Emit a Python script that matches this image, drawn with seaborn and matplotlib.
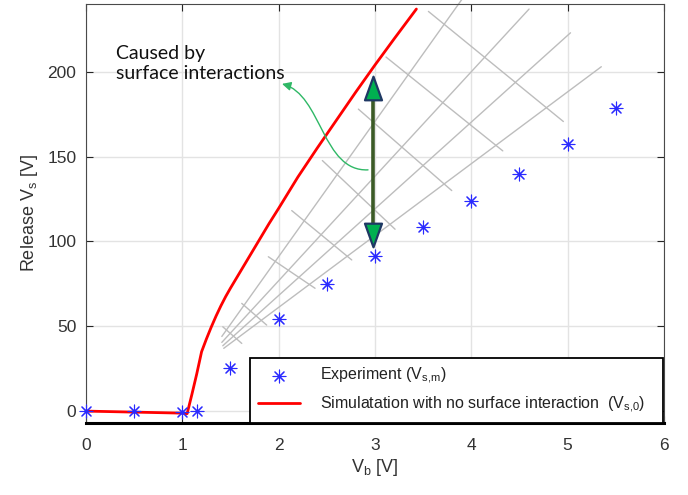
import numpy as np
import pandas as pd
import matplotlib
matplotlib.use("Agg")
import matplotlib.pyplot as plt
from matplotlib.path import Path
from matplotlib.patches import FancyArrowPatch
import seaborn as sns

# Measured release voltage
exp_vb = [0.0, 0.5, 1.0, 1.15, 1.5, 2.0, 2.5, 3.0, 3.5, 4.0, 4.5, 5.0, 5.5]
exp_vs = [0.0, 0.0, -0.5, 0.0, 25.5, 54.0, 75.0, 91.5, 108.5, 124.0, 140.0, 157.5, 178.5]

# Simulated release voltage without surface interaction
sim_vb = [0.0, 0.5, 1.0, 1.05, 1.1, 1.15, 1.2, 1.25, 1.3, 1.35, 1.4, 1.45, 1.5, 1.6,
          1.7, 1.8, 1.9, 2.0, 2.2, 2.4, 2.6, 2.8, 3.0, 3.2, 3.43]
sim_vs = [0.0, -0.6, -1.2, -1.5, 10.0, 22.0, 35.0, 42.5, 49.5, 56.0, 62.0, 67.5, 72.5,
          82.0, 91.5, 101.0, 110.5, 119.5, 138.0, 155.0, 171.5, 188.0, 204.0, 219.5, 237.0]

x_ticks = [0, 1, 2, 3, 4, 5, 6]
y_ticks = [0, 50, 100, 150, 200]

# Grey mesh: radial fan lines and cross lines (start / end points)
fan_x0 = [1.41, 1.41, 1.42, 1.43]
fan_y0 = [44.0, 40.5, 38.5, 37.0]
fan_x1 = [3.90, 4.60, 5.03, 5.35]
fan_y1 = [242.5, 237.0, 223.0, 203.0]

cross_x0 = [3.555, 3.115, 2.828, 2.454, 2.136, 1.893, 1.617, 1.420]
cross_y0 = [235.6, 208.7, 178.0, 147.7, 118.2, 91.0, 63.5, 49.7]
cross_x1 = [4.956, 4.327, 3.797, 3.209, 2.759, 2.378, 1.876, 1.617]
cross_y1 = [170.7, 153.4, 130.0, 107.2, 89.1, 72.4, 50.7, 39.9]

# Gap between simulation and experiment at Vb = 3 V
gap_x = 2.98
gap_top = 197.6
gap_bottom = 97.0

# Curved pointer towards the note
curve_x = [2.928, 2.451, 2.451, 2.035]
curve_y = [142.2, 141.0, 186.4, 192.9]
note_x, note_y = 0.31, 205.0
note_text = "Caused by\nsurface interactions"

sns.set_theme(style="white")
plt.rcParams["font.family"] = ["Liberation Sans", "DejaVu Sans"]
plt.rcParams["mathtext.fontset"] = "custom"
plt.rcParams["mathtext.rm"] = "Liberation Sans"

fig = plt.figure(figsize=(6.88, 4.95), dpi=100)
ax = fig.add_axes([0.125, 0.1455, 0.840, 0.8465])

sim_df = pd.DataFrame({"vb": sim_vb, "vs": sim_vs})
exp_df = pd.DataFrame({"vb": exp_vb, "vs": exp_vs})

# mesh overlay
for x0, y0, x1, y1 in zip(fan_x0, fan_y0, fan_x1, fan_y1):
    ax.plot([x0, x1], [y0, y1], color="#bdbdbd", lw=1.0, zorder=2, clip_on=False)
for x0, y0, x1, y1 in zip(cross_x0, cross_y0, cross_x1, cross_y1):
    ax.plot([x0, x1], [y0, y1], color="#bdbdbd", lw=1.0, zorder=2, clip_on=False)

sns.lineplot(data=sim_df, x="vb", y="vs", ax=ax, color="#ff0000", lw=2.0,
             sort=False, estimator=None, zorder=3, clip_on=False,
             label=r"Simulatation with no surface interaction  (V$_{\mathregular{s{,}0}}$)")
sns.scatterplot(data=exp_df, x="vb", y="vs", ax=ax, marker=(8, 2, 0), s=85,
                color="#2a2aff", linewidth=0.8, zorder=4, clip_on=False,
                label=r"Experiment (V$_{\mathregular{s{,}m}}$)")

# double arrow showing the gap
ax.plot([gap_x, gap_x], [gap_bottom + 4, gap_top - 4], color="#3b5a26", lw=2.6,
        zorder=5, solid_capstyle="butt")
tri_up = Path([(-0.36, -0.5), (0.36, -0.5), (0.0, 0.5), (-0.36, -0.5)],
              [Path.MOVETO, Path.LINETO, Path.LINETO, Path.CLOSEPOLY])
tri_dn = Path([(-0.36, 0.5), (0.36, 0.5), (0.0, -0.5), (-0.36, 0.5)],
              [Path.MOVETO, Path.LINETO, Path.LINETO, Path.CLOSEPOLY])
head_h = 7.0
ax.plot([gap_x], [gap_top - head_h], marker=tri_up, markersize=17,
        markerfacecolor="#00b050", markeredgecolor="#1f3864", markeredgewidth=1.6,
        linestyle="", zorder=6)
ax.plot([gap_x], [gap_bottom + head_h], marker=tri_dn, markersize=17,
        markerfacecolor="#00b050", markeredgecolor="#1f3864", markeredgewidth=1.6,
        linestyle="", zorder=6)

# curved pointer and note
curve = Path(list(zip(curve_x, curve_y)),
             [Path.MOVETO, Path.CURVE4, Path.CURVE4, Path.CURVE4])
ax.add_patch(FancyArrowPatch(path=curve, arrowstyle="-|>", mutation_scale=13,
                             color="#2fb866", lw=1.0, zorder=5))
ax.text(note_x, note_y, note_text, fontsize=14, family=["Lato", "DejaVu Sans"],
        color="#111111", ha="left", va="center", linespacing=1.2)

ax.set_xlim(0, 6)
ax.set_ylim(-7, 240)
ax.set_xticks(x_ticks)
ax.set_yticks(y_ticks)
ax.grid(True, color="#e3e3e3", lw=1.0)
ax.set_axisbelow(True)
ax.tick_params(direction="in", length=5, width=0.8, colors="#262626",
               labelsize=12.5, labelcolor="#333333", top=True, right=True,
               bottom=True, left=True)
ax.tick_params(axis="x", pad=11)
ax.tick_params(axis="y", pad=7)
for side in ["left", "top", "right"]:
    ax.spines[side].set_color("#4a4a4a")
    ax.spines[side].set_linewidth(0.8)
ax.spines["bottom"].set_color("black")
ax.spines["bottom"].set_linewidth(2.2)

ax.set_xlabel(r"V$_{\mathregular{b}}$ [V]", fontsize=13, color="#333333", labelpad=3)
ax.set_ylabel(r"Release V$_{\mathregular{s}}$ [V]", fontsize=13, color="#333333", labelpad=5)

handles, labels = ax.get_legend_handles_labels()
order = [1, 0]
leg = ax.legend([handles[i] for i in order], [labels[i] for i in order],
                loc="lower left", bbox_to_anchor=(0.284, 0.0, 0.7145, 0.165),
                mode="expand", borderaxespad=0.0, frameon=True, fancybox=False,
                edgecolor="black", facecolor="white", framealpha=1.0,
                fontsize=11.5, handlelength=2.6, handletextpad=1.3,
                labelspacing=0.55, borderpad=0.5)
leg.get_frame().set_linewidth(1.3)
leg.set_zorder(7)
for t in leg.get_texts():
    t.set_color("#222222")

fig.savefig("out.png", dpi=100, facecolor="white")
